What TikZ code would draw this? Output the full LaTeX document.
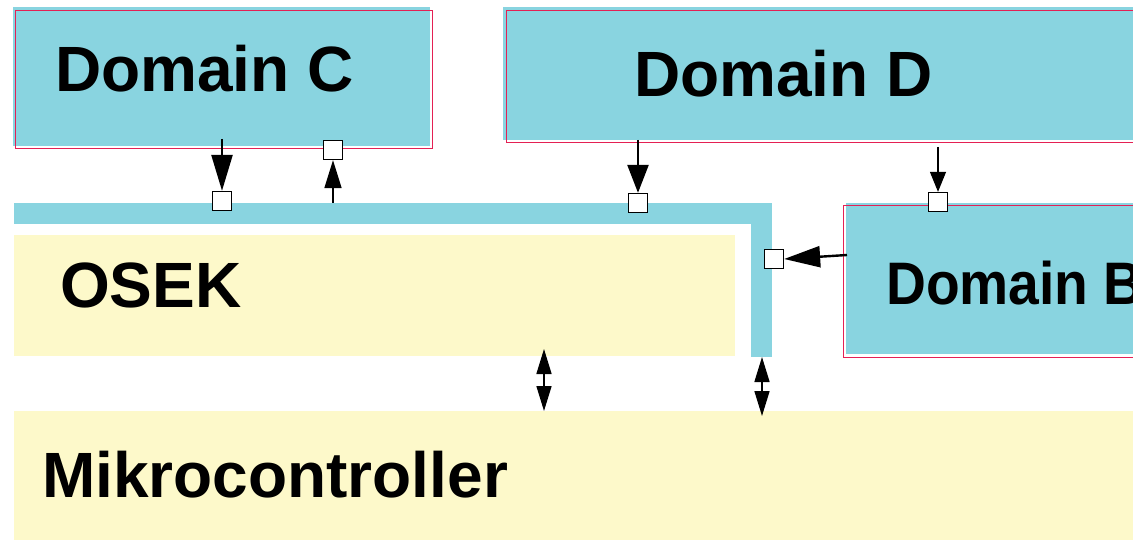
\documentclass[tikz,border=0pt]{standalone}
\usepackage{fontspec}
\setmainfont{Liberation Sans}
\usetikzlibrary{arrows.meta}
\definecolor{dblue}{RGB}{137,212,224}
\definecolor{oyellow}{RGB}{253,249,202}
\definecolor{bred}{RGB}{228,32,84}
\begin{document}
\begin{tikzpicture}[x=1pt,y=-1pt,
  frame/.style={draw=bred,line width=1.4pt,inner sep=0pt,anchor=north west},
  lbl/.style={font=\fontsize{64}{70}\selectfont\bfseries,inner sep=0pt,anchor=base west},
  port/.style={draw=black,fill=white,line width=1.3pt,minimum size=19pt,inner sep=0pt},
  conn/.style={line width=2.4pt,-{Triangle[length=#1,width=21pt]}},
  thinconn/.style={line width=1.2pt,-{Triangle[length=20pt,width=16pt]}},
  dbl/.style={line width=1.6pt,{Triangle[length=25pt,width=15pt]}-{Triangle[length=25pt,width=15pt]}}]
\useasboundingbox (0,0) rectangle (1133,540);
% Domain C
\fill[dblue] (13,7) rectangle (430,146);
\node[frame,minimum width=417pt,minimum height=138pt] (C) at (15,10) {};
\node[lbl] (Ct) at (55,92) {Domain C};
% Domain D
\fill[dblue] (503,7) rectangle (1133,140);
\node[frame,minimum width=640pt,minimum height=132pt] (D) at (506,10) {};
\node[lbl] (Dt) at (634,97) {Domain D};
% Domain B
\fill[dblue] (846,203) rectangle (1133,354);
\node[frame,minimum width=300pt,minimum height=152pt] (B) at (843,205) {};
\node[lbl,xscale=0.92,font=\fontsize{60}{66}\selectfont\bfseries] (Bt) at (886,305) {Domain B};
% bus bar
\fill[dblue] (14,203) rectangle (772,224);
\fill[dblue] (751,203) rectangle (772,357);
% OSEK
\fill[oyellow] (14,235) rectangle (735,356);
\node[lbl] (O) at (60,308) {OSEK};
% Mikrocontroller
\fill[oyellow] (14,411) rectangle (1133,540);
\node[lbl] (M) at (42,497) {Mikrocontroller};
% ports
\node[port] (s1) at (222,201) {};
\node[port] (s2) at (333,150) {};
\node[port] (s3) at (638,203) {};
\node[port] (s4) at (938,202) {};
\node[port] (s5) at (774,259) {};
% connector ends
\coordinate (c1) at (222,139);
\coordinate (c2) at (333,203);
\coordinate (c3) at (638,140);
\coordinate (c4) at (938,147);
\coordinate (c5) at (847,255);
\coordinate (d1a) at (544,349);
\coordinate (d1b) at (544,411);
\coordinate (d2a) at (762,357);
\coordinate (d2b) at (762,416);
\draw[conn=36pt] (c1) -- (s1.north);
\draw[line width=1.6pt,-{Triangle[length=28pt,width=17pt]}] (c2) -- (s2.south);
\draw[conn=28pt] (c3) -- (s3.north);
\draw[thinconn] (c4) -- (s4.north);
\draw[conn=36pt] (c5) -- (s5.east);
\draw[dbl] (d1a) -- (d1b);
\draw[dbl] (d2a) -- (d2b);
\end{tikzpicture}
\end{document}
